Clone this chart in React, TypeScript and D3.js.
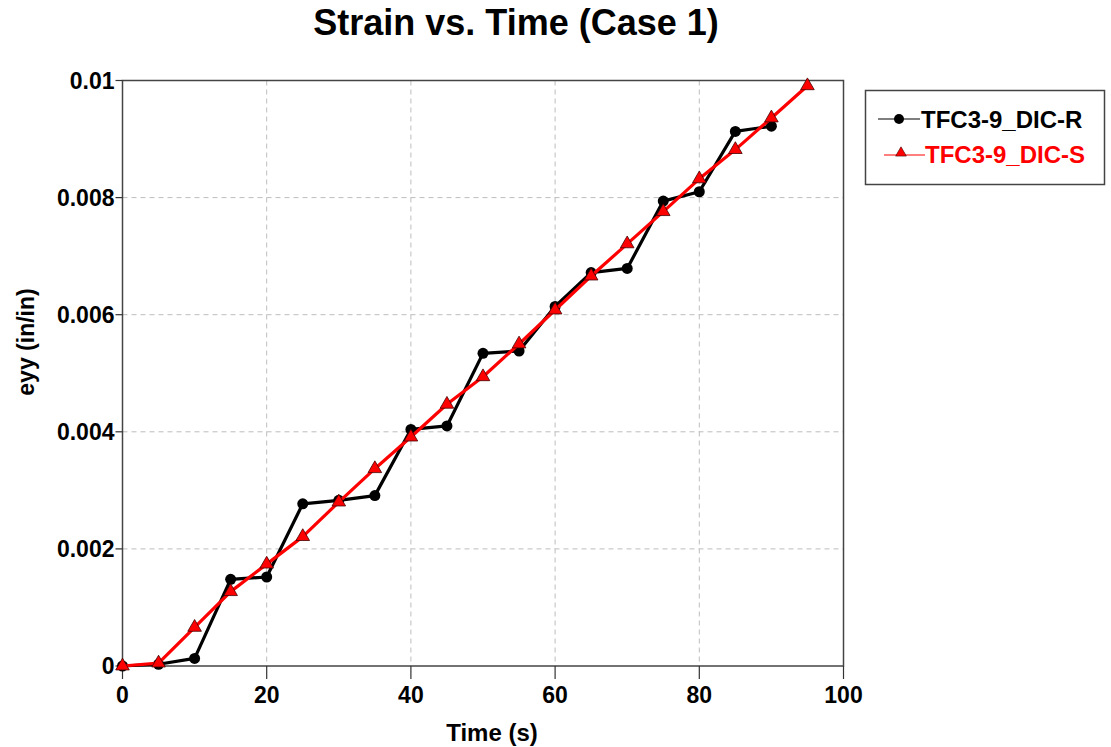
import React from "react";
import * as d3 from "d3";

const times = [0, 5, 10, 15, 20, 25, 30, 35, 40, 45, 50, 55, 60, 65, 70, 75, 80, 85, 90, 95];
const seriesR = [
  0, 0.00003, 0.00013, 0.00148, 0.00152, 0.00277, 0.00283, 0.00291, 0.00404, 0.0041,
  0.00534, 0.00538, 0.00614, 0.00672, 0.00679, 0.00794, 0.0081, 0.00913, 0.00922,
];
const seriesS = [
  0, 0.00005, 0.00066, 0.00127, 0.00174, 0.00221, 0.0028, 0.00337, 0.00391, 0.00447,
  0.00494, 0.0055, 0.00608, 0.00666, 0.00721, 0.00776, 0.00832, 0.00882, 0.00936, 0.00991,
];
const xTicks = [0, 20, 40, 60, 80, 100];
const yTicks = [0, 0.002, 0.004, 0.006, 0.008, 0.01];
const yTickLabels = ["0", "0.002", "0.004", "0.006", "0.008", "0.01"];
const seriesNames = ["TFC3-9_DIC-R", "TFC3-9_DIC-S"];

const W = 1111;
const H = 747;
const left = 122.5;
const right = 843.5;
const top = 80.5;
const bottom = 666;
const font = "'Liberation Sans', Arial, sans-serif";

export default function App() {
  const x = d3.scaleLinear().domain([0, 100]).range([left, right]);
  const y = d3.scaleLinear().domain([0, 0.01]).range([bottom, top]);

  const line = d3
    .line<number>()
    .x((_, i) => x(times[i]))
    .y((d) => y(d));

  const tri = d3.symbol(d3.symbolTriangle, 80)() as string;
  const triSmall = d3.symbol(d3.symbolTriangle, 50)() as string;

  return (
    <svg
      width={W}
      height={H}
      style={{ position: "absolute", left: 0, top: 0, background: "#fff" }}
      fontFamily={font}
      fontWeight="bold"
    >
      <text x={516} y={35} textAnchor="middle" fontSize={36}>
        Strain vs. Time (Case 1)
      </text>

      {/* grid */}
      {xTicks.slice(1, -1).map((t) => (
        <line key={"gx" + t} x1={x(t)} x2={x(t)} y1={top} y2={bottom}
          stroke="#bdbdbd" strokeWidth={1} strokeDasharray="5,4" />
      ))}
      {yTicks.slice(1, -1).map((t) => (
        <line key={"gy" + t} x1={left} x2={right} y1={y(t)} y2={y(t)}
          stroke="#bdbdbd" strokeWidth={1} strokeDasharray="5,4" />
      ))}

      {/* frame */}
      <rect x={left} y={top} width={right - left} height={bottom - top}
        fill="none" stroke="#444" strokeWidth={1.5} />

      {/* x axis */}
      {xTicks.map((t) => (
        <g key={"tx" + t}>
          <line x1={x(t)} x2={x(t)} y1={bottom} y2={bottom + 13} stroke="#333" strokeWidth={1.2} />
          <text x={x(t)} y={703} textAnchor="middle" fontSize={23}>{t}</text>
        </g>
      ))}
      <text x={492} y={741} textAnchor="middle" fontSize={24}>Time (s)</text>

      {/* y axis */}
      {yTicks.map((t, i) => (
        <g key={"ty" + t}>
          <line x1={left - 7} x2={left} y1={y(t)} y2={y(t)} stroke="#333" strokeWidth={1.2} />
          <text x={left - 8} y={y(t) + 8} textAnchor="end" fontSize={23}>{yTickLabels[i]}</text>
        </g>
      ))}
      <text transform="translate(34,342) rotate(-90)" textAnchor="middle" fontSize={23}>
        eyy (in/in)
      </text>

      {/* series R */}
      <path d={line(seriesR) as string} fill="none" stroke="#000" strokeWidth={3.2} strokeLinejoin="round" />
      {seriesR.map((v, i) => (
        <circle key={"r" + i} cx={x(times[i])} cy={y(v)} r={5.5} fill="#000" />
      ))}

      {/* series S */}
      <path d={line(seriesS) as string} fill="none" stroke="#ff0000" strokeWidth={3.2} strokeLinejoin="round" />
      {seriesS.map((v, i) => (
        <path key={"s" + i} d={tri} transform={`translate(${x(times[i])},${y(v)})`}
          fill="#ff0000" stroke="#400" strokeWidth={0.8} />
      ))}

      {/* legend */}
      <rect x={865.5} y={90.5} width={239} height={94} fill="#fff" stroke="#444" strokeWidth={1.5} />
      <line x1={878} x2={920} y1={119} y2={119} stroke="#000" strokeWidth={1.2} />
      <circle cx={899} cy={119} r={5} fill="#000" />
      <text x={921} y={128} fontSize={24} fill="#000">{seriesNames[0]}</text>
      <line x1={884} x2={925} y1={155} y2={155} stroke="#ff0000" strokeWidth={1.2} />
      <path d={triSmall} transform="translate(901,153)" fill="#ff0000" stroke="#400" strokeWidth={0.6} />
      <text x={925} y={163} fontSize={24} fill="#ff0000">{seriesNames[1]}</text>
    </svg>
  );
}
